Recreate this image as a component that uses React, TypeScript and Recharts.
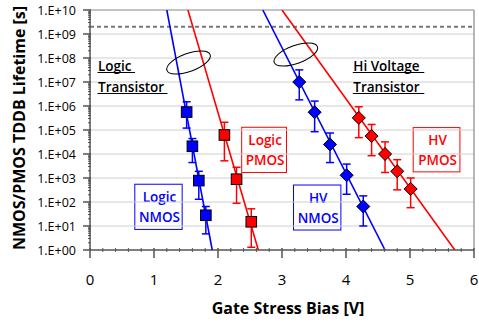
import React from "react";
import { ScatterChart, Scatter, XAxis, YAxis, ErrorBar, ReferenceLine, ReferenceArea, ReferenceDot } from "recharts";

// measured lifetimes [s] vs gate stress bias [V], error bar ends as lo / hi
const logicNmosX = [1.51, 1.6, 1.7, 1.81];
const logicNmosY = [5.6e5, 2.1e4, 7.8e2, 28];
const logicNmosLo = [1.2e5, 4.4e3, 1.3e2, 4.7];
const logicNmosHi = [1.5e6, 4.4e4, 1.9e3, 65];

const logicPmosX = [2.1, 2.29, 2.52];
const logicPmosY = [6.2e4, 8.9e2, 15];
const logicPmosLo = [5.2e3, 89, 1.3];
const logicPmosHi = [2.1e5, 2.8e3, 52];

const hvNmosX = [3.27, 3.51, 3.75, 4.01, 4.27];
const hvNmosY = [1.0e7, 5.5e5, 2.5e4, 1.3e3, 65];
const hvNmosLo = [1.8e6, 8.5e4, 4.4e3, 2.1e2, 10];
const hvNmosHi = [3.2e7, 1.6e6, 7.5e4, 3.8e3, 1.8e2];

const hvPmosX = [4.2, 4.4, 4.61, 4.8, 5.01];
const hvPmosY = [3.2e5, 5.6e4, 1.0e4, 1.9e3, 3.5e2];
const hvPmosLo = [4.8e4, 8.5e3, 1.7e3, 3.2e2, 58];
const hvPmosHi = [9.3e5, 1.7e5, 3.2e4, 5.8e3, 1.0e3];

// extrapolated fit lines (end points)
const logicNmosFitX = [1.2, 1.91];
const logicPmosFitX = [1.53, 2.63];
const hvNmosFitX = [2.7, 4.61];
const hvPmosFitX = [3.0, 5.7];
const fitY = [1e10, 1];

const decades = [1, 1e1, 1e2, 1e3, 1e4, 1e5, 1e6, 1e7, 1e8, 1e9, 1e10];
const targetLife = 2e9;

const BLUE = "#0000ff";
const RED = "#ff0000";
const AXIS = "#555555";
const FONT = "'Open Sans', sans-serif";

const toPoints = (xs: number[], ys: number[], lo: number[], hi: number[]) =>
  xs.map((x, i) => ({ x, y: ys[i], err: [ys[i] - lo[i], hi[i] - ys[i]] }));
const toFit = (xs: number[]) => xs.map((x, i) => ({ x, y: fitY[i] }));

const yTicks: number[] = [];
decades.forEach((d, i) => {
  yTicks.push(d);
  if (i < decades.length - 1) for (let k = 2; k <= 9; k++) yTicks.push(d * k);
});
const xTicks = Array.from({ length: 31 }, (_, i) => i / 5);

const YTick = (props: any) => {
  const { x, y, payload } = props;
  const lg = Math.log10(payload.value);
  const exp = Math.round(lg);
  if (Math.abs(lg - exp) > 1e-9) {
    return <line x1={x} x2={x + 3} y1={y} y2={y} stroke={AXIS} strokeWidth={1} />;
  }
  return (
    <g>
      <line x1={x - 5} x2={x + 3} y1={y} y2={y} stroke={AXIS} strokeWidth={1.5} />
      <text x={x - 12} y={y} dy={4.5} textAnchor="end" fontSize={12.5} fontFamily={FONT} fill="#000">
        {`1.E+${String(exp).padStart(2, "0")}`}
      </text>
    </g>
  );
};

const XTick = (props: any) => {
  const { x, y, payload } = props;
  const v = payload.value;
  if (!Number.isInteger(v)) {
    return <line x1={x} x2={x} y1={y - 4} y2={y} stroke={AXIS} strokeWidth={1} />;
  }
  return (
    <g>
      <line x1={x} x2={x} y1={y - 4} y2={y + 6} stroke={AXIS} strokeWidth={1.5} />
      <text x={x} y={y + 33} textAnchor="middle" fontSize={15} fontFamily={FONT} fill="#000">
        {v}
      </text>
    </g>
  );
};

const square = (fill: string) => (p: any) => (
  <rect x={p.cx - 5.3} y={p.cy - 5.3} width={10.6} height={10.6} fill={fill} stroke="#000" strokeWidth={1} />
);
const diamond = (fill: string) => (p: any) => (
  <polygon
    points={`${p.cx},${p.cy - 6.5} ${p.cx + 6.5},${p.cy} ${p.cx},${p.cy + 6.5} ${p.cx - 6.5},${p.cy}`}
    fill={fill}
    stroke="#000"
    strokeWidth={1}
  />
);
const noDot = () => <g />;

const boxLabel = (color: string, lines: string[]) => (p: any) => (
  <g>
    <rect x={p.x} y={p.y} width={p.width} height={p.height} fill="#fff" stroke={color} strokeWidth={1} />
    {lines.map((t, i) => (
      <text key={t} x={p.x + p.width / 2 + 1} y={p.y + 17.5 + i * 20} textAnchor="middle"
        fontSize={13.5} fontWeight={600} fontFamily={FONT} fill={color}>
        {t}
      </text>
    ))}
  </g>
);

const underlined = (lines: string[], widths: number[]) => (p: any) => (
  <g>
    {lines.map((t, i) => (
      <g key={t}>
        <text x={p.cx} y={p.cy + i * 21} fontSize={13.5} fontWeight={600} fontFamily={FONT} fill="#000">
          {t}
        </text>
        <line x1={p.cx - 0.5} x2={p.cx + widths[i]} y1={p.cy + i * 21 + 1.5} y2={p.cy + i * 21 + 1.5}
          stroke="#000" strokeWidth={1.2} />
      </g>
    ))}
  </g>
);

const ellipse = (p: any) => (
  <ellipse cx={p.cx} cy={p.cy} rx={23} ry={9} fill="none" stroke="#000" strokeWidth={1}
    transform={`rotate(-20 ${p.cx} ${p.cy})`} />
);

const YLabel = (props: any) => {
  const vb = props.viewBox;
  const cx = vb.x + 25;
  const cy = vb.y + 118;
  return (
    <text x={cx} y={cy} textAnchor="middle" transform={`rotate(-90 ${cx} ${cy})`}
      fontSize={16} fontWeight={700} fontFamily={FONT} fill="#000">
      NMOS/PMOS TDDB Lifetime [s]
    </text>
  );
};

const XLabel = (props: any) => {
  const vb = props.viewBox;
  return (
    <text x={vb.x + 198} y={314} textAnchor="middle" fontSize={16} fontWeight={700} fontFamily={FONT} fill="#000">
      Gate Stress Bias [V]
    </text>
  );
};

export default function App() {
  return (
    <div style={{ position: "absolute", left: 0, top: 0, background: "#fff" }}>
      <ScatterChart width={479} height={327} margin={{ top: 10, right: 5, bottom: 0, left: 0 }}>
        {decades.slice(1, -1).map((d) => (
          <ReferenceLine key={d} y={d} stroke="#cfcfcf" strokeWidth={1} />
        ))}
        <ReferenceLine y={1e10} stroke="#888" strokeWidth={1.2} />
        <ReferenceLine x={6} stroke="#888" strokeWidth={1.2} />
        <ReferenceLine y={targetLife} stroke="#777" strokeWidth={2} strokeDasharray="4 3" />
        <XAxis dataKey="x" type="number" domain={[0, 6]} ticks={xTicks} interval={0}
          tickSize={0} tickLine={false} tick={<XTick />} height={77}
          axisLine={{ stroke: AXIS, strokeWidth: 1.5 }} label={{ content: XLabel }} />
        <YAxis dataKey="y" type="number" scale="log" domain={[1, 1e10]} allowDataOverflow
          ticks={yTicks} interval={0} tickSize={0} tickLine={false} tick={<YTick />} width={90}
          axisLine={{ stroke: AXIS, strokeWidth: 1.5 }} label={{ content: YLabel }} />

        <Scatter data={toFit(logicNmosFitX)} line={{ stroke: BLUE, strokeWidth: 1.6 }} shape={noDot} isAnimationActive={false} />
        <Scatter data={toFit(logicPmosFitX)} line={{ stroke: RED, strokeWidth: 1.6 }} shape={noDot} isAnimationActive={false} />
        <Scatter data={toFit(hvNmosFitX)} line={{ stroke: BLUE, strokeWidth: 1.6 }} shape={noDot} isAnimationActive={false} />
        <Scatter data={toFit(hvPmosFitX)} line={{ stroke: RED, strokeWidth: 1.6 }} shape={noDot} isAnimationActive={false} />

        <Scatter data={toPoints(logicNmosX, logicNmosY, logicNmosLo, logicNmosHi)} shape={square(BLUE)} isAnimationActive={false}>
          <ErrorBar dataKey="err" direction="y" width={4} stroke={BLUE} strokeWidth={1.5} />
        </Scatter>
        <Scatter data={toPoints(logicPmosX, logicPmosY, logicPmosLo, logicPmosHi)} shape={square(RED)} isAnimationActive={false}>
          <ErrorBar dataKey="err" direction="y" width={4} stroke={RED} strokeWidth={1.5} />
        </Scatter>
        <Scatter data={toPoints(hvNmosX, hvNmosY, hvNmosLo, hvNmosHi)} shape={diamond(BLUE)} isAnimationActive={false}>
          <ErrorBar dataKey="err" direction="y" width={4} stroke={BLUE} strokeWidth={1.5} />
        </Scatter>
        <Scatter data={toPoints(hvPmosX, hvPmosY, hvPmosLo, hvPmosHi)} shape={diamond(RED)} isAnimationActive={false}>
          <ErrorBar dataKey="err" direction="y" width={4} stroke={RED} strokeWidth={1.5} />
        </Scatter>

        <ReferenceArea x1={0.7} x2={1.44} y1={7.2} y2={550} shape={boxLabel(BLUE, ["Logic", "NMOS"])} />
        <ReferenceArea x1={2.37} x2={3.07} y1={1.7e3} y2={1.3e5} shape={boxLabel(RED, ["Logic", "PMOS"])} />
        <ReferenceArea x1={3.18} x2={3.92} y1={6.8} y2={510} shape={boxLabel(BLUE, ["HV", "NMOS"])} />
        <ReferenceArea x1={5.05} x2={5.78} y1={1.8e3} y2={1.26e5} shape={boxLabel(RED, ["HV", "PMOS"])} />

        <ReferenceDot x={0.125} y={2.87e7} shape={underlined(["Logic", "Transistor"], [37, 69.5])} />
        <ReferenceDot x={4.114} y={2.87e7} shape={underlined(["Hi Voltage", "Transistor"], [71, 71])} />
        <ReferenceDot x={1.54} y={6.5e7} shape={ellipse} />
        <ReferenceDot x={3.216} y={1.4e8} shape={ellipse} />
      </ScatterChart>
    </div>
  );
}
